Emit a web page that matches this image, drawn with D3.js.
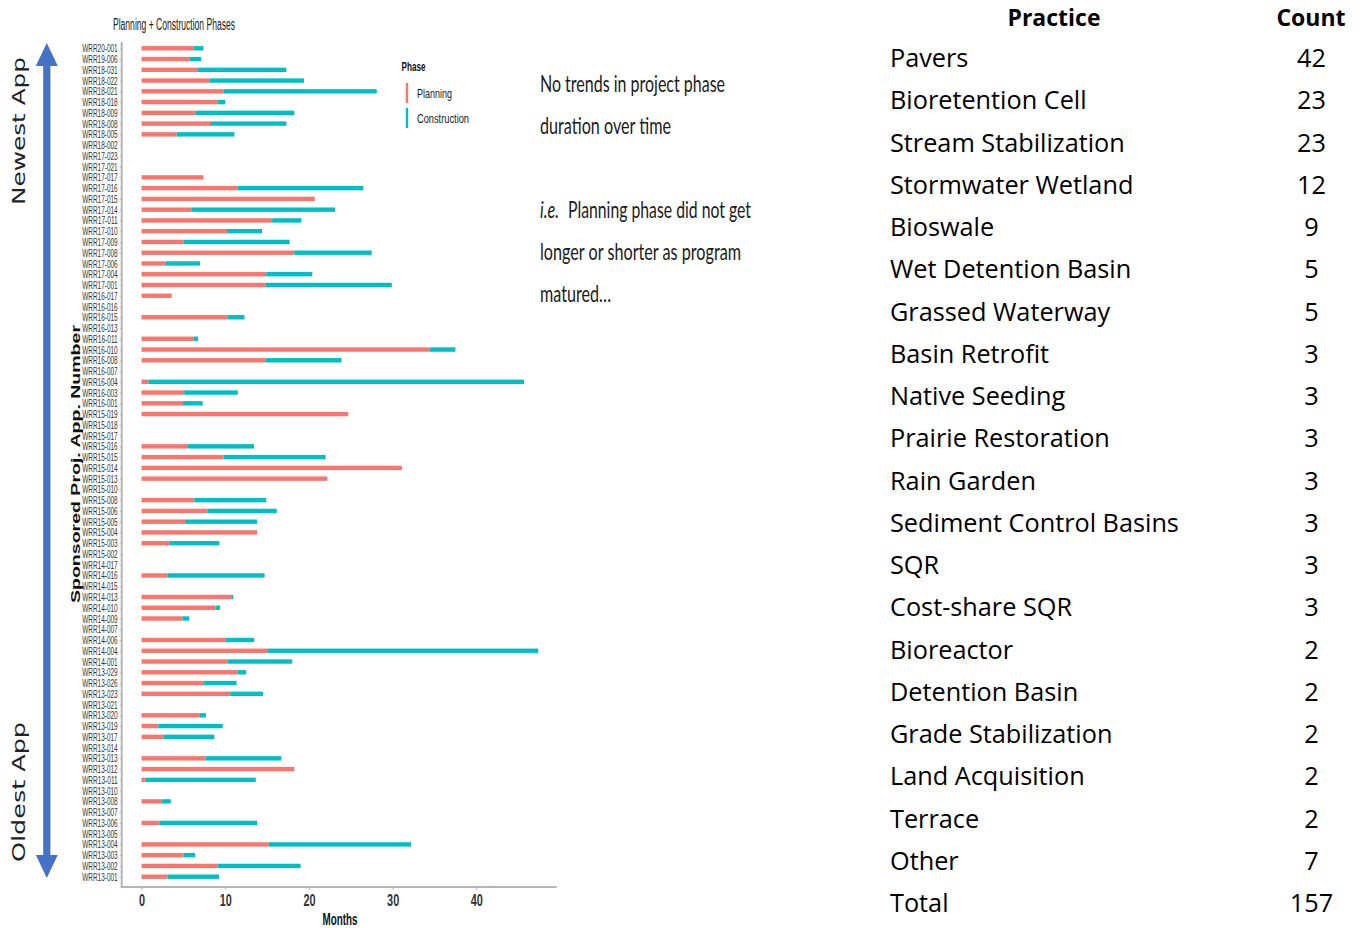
<!DOCTYPE html>
<html><head><meta charset="utf-8">
<script src="https://cdn.jsdelivr.net/npm/d3@7"></script>
<style>body{margin:0;background:#fff} svg{display:block}</style>
</head><body>
<svg id="c" width="1364" height="928"></svg>
<script>
// ---------- DATA ----------
const projects = [
 "WRR20-001","WRR19-006","WRR18-031","WRR18-022","WRR18-021","WRR18-018","WRR18-009","WRR18-008","WRR18-005","WRR18-002",
 "WRR17-023","WRR17-021","WRR17-017","WRR17-016","WRR17-015","WRR17-014","WRR17-011","WRR17-010","WRR17-009","WRR17-008",
 "WRR17-006","WRR17-004","WRR17-001","WRR16-017","WRR16-016","WRR16-015","WRR16-013","WRR16-011","WRR16-010","WRR16-008",
 "WRR16-007","WRR16-004","WRR16-003","WRR16-001","WRR15-019","WRR15-018","WRR15-017","WRR15-016","WRR15-015","WRR15-014",
 "WRR15-013","WRR15-010","WRR15-008","WRR15-006","WRR15-005","WRR15-004","WRR15-003","WRR15-002","WRR14-017","WRR14-016",
 "WRR14-015","WRR14-013","WRR14-010","WRR14-009","WRR14-007","WRR14-006","WRR14-004","WRR14-001","WRR13-029","WRR13-026",
 "WRR13-023","WRR13-021","WRR13-020","WRR13-019","WRR13-017","WRR13-014","WRR13-013","WRR13-012","WRR13-011","WRR13-010",
 "WRR13-008","WRR13-007","WRR13-006","WRR13-005","WRR13-004","WRR13-003","WRR13-002","WRR13-001"];
// planning phase duration (months), null = no data
const planningMonths = [
 6.2,5.75,6.75,8.1,9.8,9.05,6.5,8.3,4.2,null,
 null,null,7.4,11.5,20.7,5.95,15.6,10.2,5.0,18.25,
 2.9,14.9,14.85,3.6,null,10.3,null,6.2,34.4,14.8,
 null,0.83,5.1,4.96,24.7,null,null,5.55,9.8,31.1,
 22.2,null,6.3,7.86,5.2,13.8,3.4,null,null,3.1,
 null,10.8,8.85,4.9,null,10.0,15.1,10.3,11.5,7.4,
 10.6,null,6.9,2.0,2.6,null,7.65,18.25,0.48,null,
 2.46,null,2.14,null,15.2,5.04,9.1,3.1];
// construction phase duration (months), 0 = none
const constructionMonths = [
 1.2,1.35,10.55,11.3,18.3,0.95,11.75,9.0,6.9,null,
 null,null,0,15.0,0,17.15,3.5,4.2,12.7,9.25,
 4.1,5.5,15.05,0,null,2.0,null,0.55,3.1,9.1,
 null,44.87,6.4,2.34,0,null,null,7.9,12.2,0,
 0,null,8.6,8.29,8.6,0,5.9,null,null,11.6,
 null,0.15,0.55,0.8,null,3.45,32.3,7.7,1.0,3.95,
 3.9,null,0.8,7.7,6.1,null,9.05,0,13.17,null,
 1.04,null,11.66,null,17.0,1.36,9.9,6.15];
const phases = ["Planning","Construction"];
const phaseColors = ["#F8766D","#00BFC4"];
const xTicks = [0,10,20,30,40];
const practices = ["Pavers","Bioretention Cell","Stream Stabilization","Stormwater Wetland","Bioswale",
 "Wet Detention Basin","Grassed Waterway","Basin Retrofit","Native Seeding","Prairie Restoration",
 "Rain Garden","Sediment Control Basins","SQR","Cost-share SQR","Bioreactor","Detention Basin",
 "Grade Stabilization","Land Acquisition","Terrace","Other","Total"];
const practiceCounts = [42,23,23,12,9,5,5,3,3,3,3,3,3,3,2,2,2,2,2,7,157];

// ---------- SETUP ----------
const svg = d3.select("#c");
const sans = "'Liberation Sans', Arial, sans-serif";
function squeeze(sel, f){ sel.each(function(){ const L=this.getComputedTextLength(); d3.select(this).attr("textLength", L*f).attr("lengthAdjust","spacingAndGlyphs"); }); }
function fit(sel, w){ sel.attr("textLength", w).attr("lengthAdjust","spacingAndGlyphs"); return sel; }

const x = d3.scaleLinear().domain([-2.37, 49.6]).range([121.7, 556.7]);
const y = d3.scalePoint().domain(projects).range([48.3, 876.7]);
const color = d3.scaleOrdinal().domain(phases).range(phaseColors);

// ---------- BARS ----------
const rows = projects.map((p,i)=>({p, plan: planningMonths[i], cons: constructionMonths[i]}));
const bh = 4.4;
svg.append("g").selectAll("rect").data(rows.filter(d=>d.plan!=null)).join("rect")
  .attr("x", x(0)).attr("y", d=>y(d.p)-bh/2).attr("height", bh)
  .attr("width", d=>x(d.plan)-x(0)).attr("fill", color("Planning"));
svg.append("g").selectAll("rect").data(rows.filter(d=>d.cons>0)).join("rect")
  .attr("x", d=>x(d.plan)).attr("y", d=>y(d.p)-bh/2).attr("height", bh)
  .attr("width", d=>x(d.plan+d.cons)-x(d.plan)).attr("fill", color("Construction"));

// ---------- AXES ----------
const axisColor = "#b5b5b5";
const yAx = svg.append("g").attr("transform", `translate(${x.range()[0]},0)`)
  .call(d3.axisLeft(y).tickSize(2).tickPadding(2));
yAx.select(".domain").remove();
yAx.selectAll(".tick line").attr("stroke", axisColor);
yAx.selectAll("text").attr("font-family", sans).attr("font-size", 11).attr("fill", "#333");
fit(yAx.selectAll("text"), 35.5);

const xAx = svg.append("g").attr("transform", `translate(0,887)`)
  .call(d3.axisBottom(x).tickValues(xTicks).tickSize(3).tickPadding(4));
xAx.select(".domain").remove();
xAx.selectAll(".tick line").attr("stroke", axisColor);
xAx.selectAll("text").attr("font-family", sans).attr("font-size", 17).attr("font-weight", "bold").attr("fill", "#333")
  .attr("dy", "0.71em");
squeeze(xAx.selectAll("text"), 0.64);

svg.append("line").attr("x1", x.range()[0]).attr("x2", x.range()[0]).attr("y1", 42).attr("y2", 887.5)
  .attr("stroke", axisColor).attr("stroke-width", 2);
svg.append("line").attr("x1", x.range()[0]-1).attr("x2", x.range()[1]).attr("y1", 887).attr("y2", 887)
  .attr("stroke", axisColor).attr("stroke-width", 2);

// titles
fit(svg.append("text").attr("x", 113).attr("y", 30).attr("font-family", sans).attr("font-size", 16).attr("fill", "#222")
  .text("Planning + Construction Phases"), 122);
fit(svg.append("text").attr("x", 340).attr("y", 925).attr("text-anchor", "middle").attr("font-family", sans)
  .attr("font-size", 17).attr("font-weight", "bold").attr("fill", "#111").text("Months"), 35);
fit(svg.append("text").attr("transform", "translate(80,464) rotate(-90)").attr("text-anchor", "middle")
  .attr("font-family", sans).attr("font-size", 12).attr("font-weight", "bold").attr("fill", "#111")
  .text("Sponsored Proj. App. Number"), 278);

// ---------- LEGEND ----------
fit(svg.append("text").attr("x", 401.5).attr("y", 71).attr("font-family", sans).attr("font-size", 13)
  .attr("font-weight", "bold").attr("fill", "#111").text("Phase"), 24);
const lg = svg.append("g").selectAll("g").data(phases).join("g")
  .attr("transform", (d,i)=>`translate(407,${83+i*25})`);
lg.append("line").attr("x1", 0).attr("x2", 0).attr("y1", 0).attr("y2", 20)
  .attr("stroke", d=>color(d)).attr("stroke-width", 2.4);
lg.append("text").attr("x", 10).attr("y", 15).attr("font-family", sans).attr("font-size", 13)
  .attr("fill", "#222").text(d=>d).each(function(d,i){ fit(d3.select(this), i===0?35:52); });

// ---------- ARROW ----------
const arX = 46.8, arTop = 43, arBot = 878, hw = 11, hh = 23, sw = 3.6;
svg.append("path").attr("fill", "#4472C4").attr("d",
  `M${arX},${arTop} L${arX+hw},${arTop+hh} L${arX+sw},${arTop+hh} L${arX+sw},${arBot-hh} L${arX+hw},${arBot-hh} L${arX},${arBot}
   L${arX-hw},${arBot-hh} L${arX-sw},${arBot-hh} L${arX-sw},${arTop+hh} L${arX-hw},${arTop+hh} Z`);
const dj = "'DejaVu Sans', Verdana, sans-serif";
fit(svg.append("text").attr("transform", "translate(24.5,131) rotate(-90)").attr("text-anchor", "middle")
  .attr("font-family", dj).attr("font-size", 17).attr("fill", "#222").text("Newest App"), 148);
fit(svg.append("text").attr("transform", "translate(24.5,792) rotate(-90)").attr("text-anchor", "middle")
  .attr("font-family", dj).attr("font-size", 17).attr("fill", "#222").text("Oldest App"), 140);

// ---------- NOTE ----------
const lato = "Lato, 'Open Sans', sans-serif";
const notes = [
  {t:"No trends in project phase", x:540, y:91.5, w:185, it:false},
  {t:"duration over time", x:540, y:133.5, w:131, it:false},
  {t:"i.e.", x:540, y:218, w:19, it:true},
  {t:"Planning phase did not get", x:568, y:218, w:183, it:false},
  {t:"longer or shorter as program", x:540, y:260, w:201, it:false},
  {t:"matured…", x:540, y:302, w:71, it:false}];
svg.append("g").selectAll("text").data(notes).join("text")
  .attr("x", d=>d.x).attr("y", d=>d.y).attr("font-family", lato).attr("font-size", 24)
  .attr("font-style", d=>d.it?"italic":"normal").attr("fill", "#1a1a1a").text(d=>d.t)
  .attr("textLength", d=>d.w).attr("lengthAdjust", "spacingAndGlyphs");

// ---------- TABLE ----------
const tf = "'Open Sans', Lato, sans-serif";
const tg = svg.append("g");
const heads = [["Practice",1054],["Count",1311]];
const hd = tg.selectAll(".hd").data(heads).join("text").attr("class","hd")
  .attr("x", d=>d[1]).attr("y", 26).attr("text-anchor", "middle").attr("font-family", tf)
  .attr("font-weight", "bold").attr("font-size", 22).attr("fill", "#000").text(d=>d[0]);
const ty = d3.scalePoint().domain(practices).range([67, 912]);
const names = tg.selectAll(".nm").data(practices).join("text").attr("class","nm")
  .attr("x", 890).attr("y", d=>ty(d)).attr("font-family", tf).attr("font-size", 23).attr("fill", "#000").text(d=>d);
const ref = names.filter(d=>d==="Sediment Control Basins").node().getComputedTextLength();
const fs = 23*289/ref;
names.attr("font-size", fs);
hd.attr("font-size", Math.min(fs, 23));
tg.selectAll(".ct").data(practiceCounts).join("text").attr("class","ct")
  .attr("x", 1311.5).attr("y", (d,i)=>ty(practices[i])).attr("text-anchor", "middle")
  .attr("font-family", tf).attr("font-size", fs).attr("fill", "#000").text(d=>d);
</script>
</body></html>
